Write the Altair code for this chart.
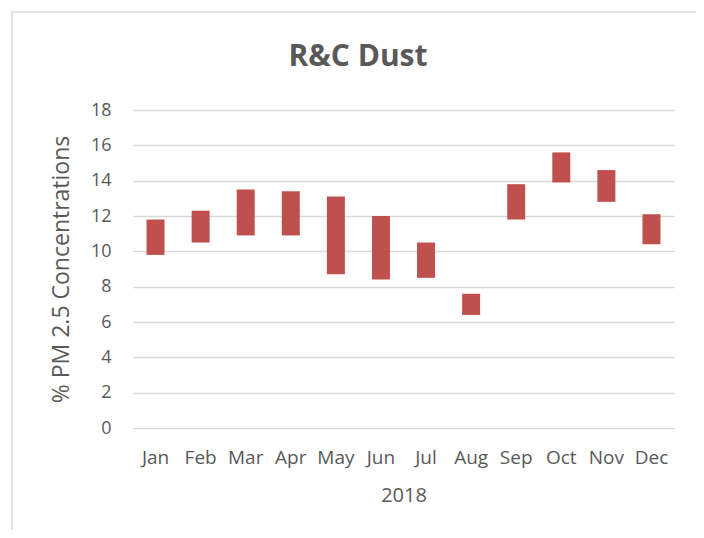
import altair as alt
import pandas as pd

months = ["Jan", "Feb", "Mar", "Apr", "May", "Jun", "Jul", "Aug", "Sep", "Oct", "Nov", "Dec"]
low = [9.8, 10.5, 10.9, 10.9, 8.7, 8.4, 8.5, 6.4, 11.8, 13.9, 12.8, 10.4]
high = [11.8, 12.3, 13.5, 13.4, 13.1, 12.0, 10.5, 7.6, 13.8, 15.6, 14.6, 12.1]
y_ticks = [0, 2, 4, 6, 8, 10, 12, 14, 16, 18]
chart_title = ["R&C Dust"]

df = pd.DataFrame({"month": months, "low": low, "high": high})
tdf = pd.DataFrame({"t": chart_title})

FONT = "Open Sans"
TXT = "#595959"
GRID = "#D9D9D9"

border = alt.Chart(tdf).mark_rect(fill=None, stroke=GRID, strokeWidth=1.5).encode(
    x=alt.value(-121), x2=alt.value(570), y=alt.value(-98), y2=alt.value(440)
)

title = alt.Chart(tdf).mark_text(
    font=FONT, fontSize=30, fontWeight="bold", color=TXT, baseline="middle", align="center"
).encode(text="t:N", x=alt.value(225), y=alt.value(-53))

bars = alt.Chart(df).mark_bar(color="#C0504D", size=18).encode(
    x=alt.X("month:N", sort=months, title="2018",
            scale=alt.Scale(paddingInner=0.6, paddingOuter=0.3),
            axis=alt.Axis(labelAngle=0, ticks=False, domain=False,
                          labelPadding=20, titlePadding=18, labelFontSize=19)),
    y=alt.Y("low:Q", title="% PM 2.5 Concentrations",
            scale=alt.Scale(domain=[0, 18], nice=False),
            axis=alt.Axis(values=y_ticks, ticks=False, domain=False,
                          labelPadding=22, titlePadding=17, labelFontSize=18,
                          titleFontSize=23)),
    y2="high:Q",
)

chart = alt.layer(border, title, bars).properties(
    width=541,
    height=318,
    autosize="none",
    padding={"left": 125, "top": 102, "right": 22, "bottom": 102},
).configure_axis(
    labelFont=FONT, titleFont=FONT, labelColor=TXT, titleColor=TXT,
    titleFontSize=20, titleFontWeight="normal",
    gridColor=GRID, gridWidth=1.5,
).configure_view(stroke=None)

chart.save("out.html", embed_options={"renderer": "svg", "actions": False})
